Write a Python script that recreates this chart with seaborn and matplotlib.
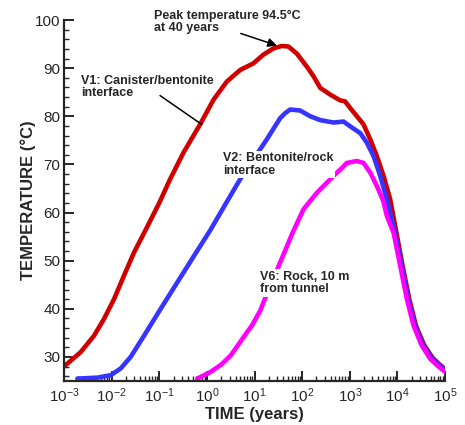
import numpy as np
import pandas as pd
import matplotlib
matplotlib.use('Agg')
import matplotlib.pyplot as plt
from matplotlib.ticker import LogLocator, MultipleLocator, NullFormatter
import seaborn as sns

# log10(time in years) and temperature (degC)
v1_logt = [-3.0, -2.65, -2.37, -2.16, -1.95, -1.74, -1.53, -1.28, -1.0, -0.773,
           -0.494, -0.143, 0.137, 0.418, 0.697, 0.977, 1.187, 1.397, 1.573, 1.712,
           1.89, 2.1, 2.24, 2.38, 2.59, 2.8, 2.9, 3.01, 3.15, 3.29, 3.43, 3.57,
           3.71, 3.85, 3.98, 4.11, 4.25, 4.39, 4.56, 4.74, 4.89, 5.0]
v1_temp = [28.0, 31.0, 34.4, 37.9, 42.0, 46.9, 51.7, 56.5, 62.0, 66.9,
           72.4, 78.3, 83.4, 87.2, 89.6, 91.0, 92.8, 94.1, 94.6, 94.5,
           93.0, 90.3, 88.3, 85.9, 84.5, 83.3, 83.1, 81.7, 80.0, 78.3, 75.2, 71.7,
           67.6, 62.7, 55.8, 48.9, 42.0, 36.5, 32.5, 29.8, 28.4, 27.5]

v2_logt = [-2.72, -2.3, -2.02, -1.81, -1.6, -1.32, -0.97, -0.62, -0.27, 0.082,
           0.4, 0.697, 1.0, 1.258, 1.538, 1.65, 1.748, 1.958, 2.17, 2.38, 2.66,
           2.87, 3.01, 3.22, 3.36, 3.5, 3.64, 3.78, 3.95, 4.09, 4.23, 4.37, 4.54,
           4.72, 4.88, 5.0]
v2_temp = [25.5, 25.7, 26.2, 27.6, 30.0, 34.4, 40.0, 45.5, 51.0, 56.5,
           61.9, 66.9, 71.4, 75.2, 79.6, 80.7, 81.4, 81.2, 80.0, 79.2, 78.7,
           78.9, 77.9, 76.5, 74.5, 71.7, 67.6, 62.7, 55.8, 48.9, 42.0, 36.5, 32.4,
           29.7, 28.3, 27.3]

v6_logt = [-0.2, 0.082, 0.3, 0.5, 0.77, 0.95, 1.12, 1.26, 1.61, 1.8, 2.03, 2.31,
           2.59, 2.69, 2.8, 2.94, 3.15, 3.29, 3.43, 3.57, 3.7, 3.78, 3.92, 4.06,
           4.2, 4.34, 4.51, 4.69, 4.85, 5.0]
v6_temp = [25.5, 26.9, 28.4, 30.3, 34.1, 36.6, 39.6, 43.1, 51.3, 55.8, 60.7, 64.1,
           66.9, 67.9, 68.9, 70.3, 70.7, 70.3, 68.3, 65.5, 62.5, 59.3, 55.8, 48.9,
           42.0, 36.5, 32.4, 29.6, 28.1, 26.9]

series = [('V1', v1_logt, v1_temp, '#d00000'),
          ('V2', v2_logt, v2_temp, '#3535ff'),
          ('V6', v6_logt, v6_temp, '#ff00ff')]

sns.set_style('ticks')
plt.rcParams['font.family'] = ['Liberation Sans', 'DejaVu Sans']
plt.rcParams['mathtext.fontset'] = 'custom'
plt.rcParams['mathtext.rm'] = 'Liberation Sans'

fig = plt.figure(figsize=(4.65, 4.25), dpi=100)
ax = fig.add_axes([64 / 465, 1 - 381 / 425, 381 / 465, 361 / 425])

for name, logt, temp, color in series:
    df = pd.DataFrame({'time': 10.0 ** np.array(logt), 'temp': temp})
    sns.lineplot(data=df, x='time', y='temp', color=color, lw=3.3, sort=False,
                 estimator=None, ax=ax, zorder=2)

ax.set_xscale('log')
ax.set_xlim(1e-3, 1e5)
ax.set_ylim(25, 100)
ax.xaxis.set_major_locator(LogLocator(base=10, numticks=20))
ax.xaxis.set_minor_locator(LogLocator(base=10, subs=np.arange(2, 10), numticks=20))
ax.xaxis.set_minor_formatter(NullFormatter())
ax.yaxis.set_major_locator(MultipleLocator(10))
ax.yaxis.set_minor_locator(MultipleLocator(2))

sns.despine(ax=ax)
for s in ['left', 'bottom']:
    ax.spines[s].set_linewidth(1.6)
ax.tick_params(which='major', direction='in', length=7, width=1.4, labelsize=11)
ax.tick_params(which='minor', direction='in', length=3.5, width=1.0)
ax.tick_params(axis='y', pad=2.5)
ax.tick_params(axis='x', pad=4)

ax.set_xlabel('TIME (years)', fontsize=12, fontweight='bold', labelpad=1)
ax.set_ylabel('TEMPERATURE (\u00b0C)', fontsize=12, fontweight='bold', labelpad=-1)

# labels sitting on top of a curve hide it behind a white box
box = dict(facecolor='white', edgecolor='none', pad=1)
tkw = dict(fontsize=9, fontweight='bold', va='top', ha='left', linespacing=1.05,
           zorder=5)
ax.text(0.078, 102.1, 'Peak temperature 94.5\u00b0C\nat 40 years', clip_on=False, **tkw)
ax.text(0.00224, 88.6, 'V1: Canister/bentonite\ninterface', **tkw)
ax.text(2.16, 72.5, 'V2: Bentonite/rock\ninterface', bbox=box, **tkw)
ax.text(13.1, 47.9, 'V6: Rock, 10 m\nfrom tunnel', bbox=box, **tkw)

ax.plot([10 ** -0.983, 10 ** -0.107], [84.3, 78.3], color='black', lw=1.1, zorder=3)
ax.annotate('', xy=(10 ** 1.47, 94.7), xytext=(10 ** 0.712, 97.2),
            arrowprops=dict(arrowstyle='-|>', color='black', lw=1.1,
                            mutation_scale=13, shrinkA=0, shrinkB=0))

fig.savefig('out.png', dpi=100)
